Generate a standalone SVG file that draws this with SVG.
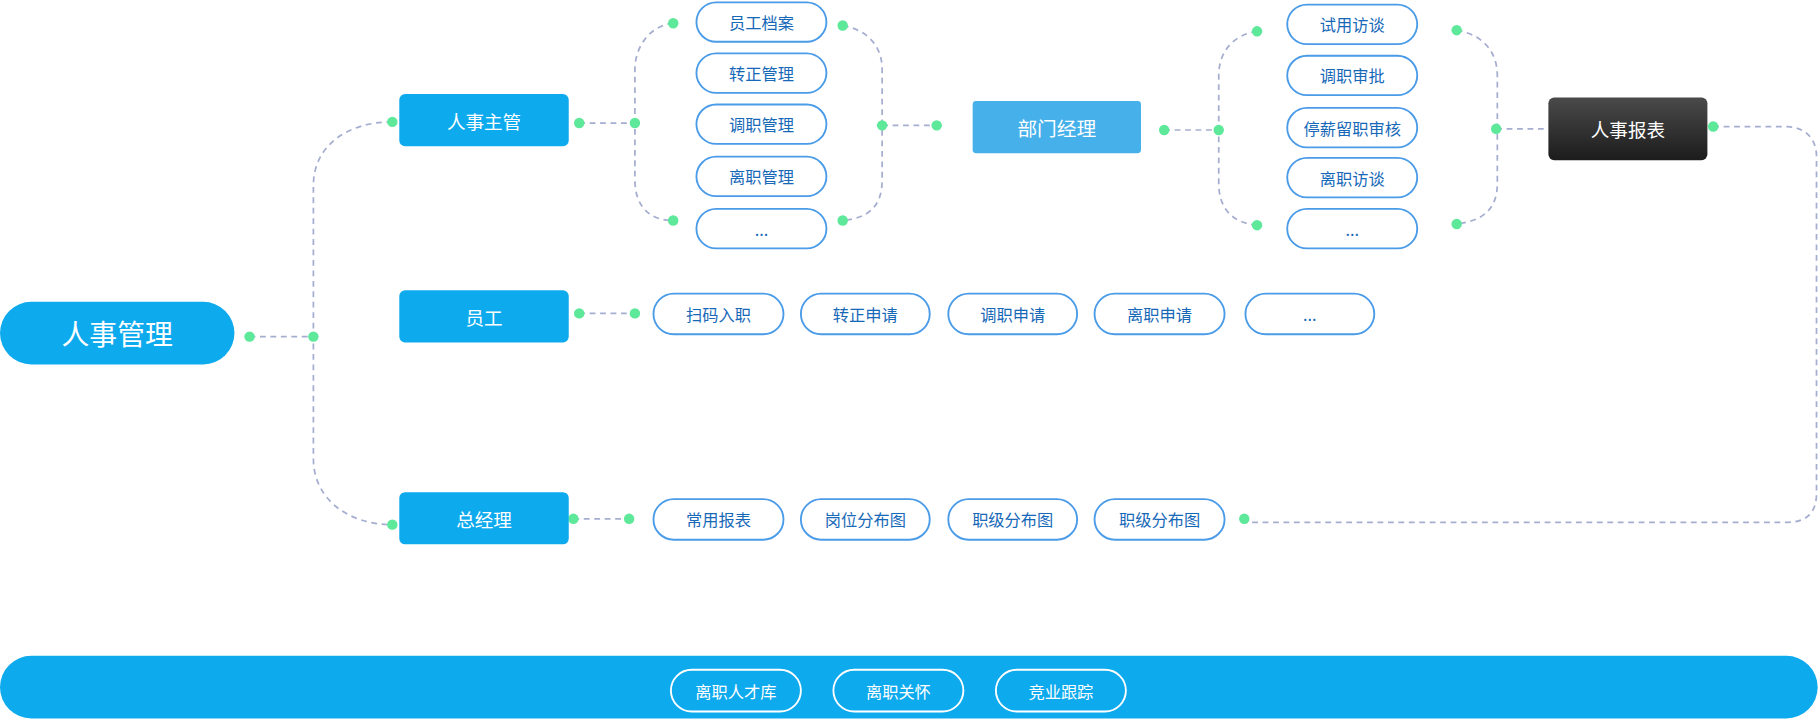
<svg xmlns="http://www.w3.org/2000/svg" width="1820" height="721" viewBox="0 0 1820 721">
<defs>
<linearGradient id="dk" x1="0" y1="0" x2="0" y2="1"><stop offset="0" stop-color="#4a4a4a"/><stop offset="1" stop-color="#1c1c1c"/></linearGradient>
<style>
text{font-family:"Noto Sans CJK SC","Noto Sans",sans-serif;text-anchor:middle;dominant-baseline:central}
.b{fill:#0eaaee}
.w{fill:#fff;font-size:16px}
.p{fill:#fff;stroke:#4a9be8;stroke-width:1.6}
.pt{fill:#1769b8;font-size:14px}
.c{fill:none;stroke:#a6aed0;stroke-width:1.5;stroke-dasharray:5 4}
.d{fill:#5de89a}
.bp{fill:none;stroke:#fff;stroke-width:1.6}
</style>
</defs>
<rect width="1820" height="721" fill="#fff"/>
<g transform="scale(1.16071)">
<g id="connectors">
<path class="c" d="M215,290H270M338,105C300,105 270,125 270,160V395C270,430 300,452 338,452"/>
<path class="c" d="M499,106H547M580,20C560,22 547,40 547,60V155C547,178 560,190 580,190"/>
<path class="c" d="M726,22C748,26 760,40 760,60V155C760,178 748,188 726,190M760,108H807"/>
<path class="c" d="M1003,112H1050M1083,27C1062,30 1050,45 1050,65V158C1050,180 1062,192 1083,194"/>
<path class="c" d="M1255,26C1278,30 1290,45 1290,65V158C1290,180 1278,190 1255,193M1289,111H1334"/>
<path class="c" d="M1476,109H1540C1556,110 1565,120 1565,135V425C1565,442 1556,450 1540,450H1072"/>
<path class="c" d="M499,270H547M494,447H542"/>
<g class="d">
<circle cx="215" cy="290" r="4.5"/><circle cx="270" cy="290" r="4.5"/><circle cx="338" cy="105" r="4.5"/><circle cx="338" cy="452" r="4.5"/>
<circle cx="499" cy="106" r="4.5"/><circle cx="547" cy="106" r="4.5"/><circle cx="580" cy="20" r="4.5"/><circle cx="580" cy="190" r="4.5"/>
<circle cx="726" cy="22" r="4.5"/><circle cx="726" cy="190" r="4.5"/><circle cx="760" cy="108" r="4.5"/><circle cx="807" cy="108" r="4.5"/>
<circle cx="1003" cy="112" r="4.5"/><circle cx="1050" cy="112" r="4.5"/><circle cx="1083" cy="27" r="4.5"/><circle cx="1083" cy="194" r="4.5"/>
<circle cx="1255" cy="26" r="4.5"/><circle cx="1255" cy="193" r="4.5"/><circle cx="1289" cy="111" r="4.5"/>
<circle cx="1476" cy="109" r="4.5"/><circle cx="1072" cy="447" r="4.5"/>
<circle cx="499" cy="270" r="4.5"/><circle cx="547" cy="270" r="4.5"/><circle cx="494" cy="447" r="4.5"/><circle cx="542" cy="447" r="4.5"/>
</g>
</g>
<g id="root"><rect class="b" x="0" y="260" width="202" height="54" rx="27"/><text class="w" x="101" y="287" style="font-size:24px">人事管理</text></g>
<g id="hr"><rect class="b" x="344" y="81" width="146" height="45" rx="5"/><text class="w" x="417" y="103.5">人事主管</text></g>
<g id="emp"><rect class="b" x="344" y="250" width="146" height="45" rx="5"/><text class="w" x="417" y="272.5">员工</text></g>
<g id="gm"><rect class="b" x="344" y="424" width="146" height="45" rx="5"/><text class="w" x="417" y="446.5">总经理</text></g>
<g id="dept"><rect fill="#45b0ea" x="838" y="87" width="145" height="45" rx="3"/><text class="w" x="910.5" y="109.5" style="font-size:17px">部门经理</text></g>
<g id="report"><rect fill="url(#dk)" x="1334" y="84" width="137" height="54" rx="5"/><text class="w" x="1402.5" y="111">人事报表</text></g>
<g id="hrItems">
<g id="h1"><rect class="p" x="600" y="2" width="112" height="34" rx="17"/><text class="pt" x="656" y="19">员工档案</text></g>
<g id="h2"><rect class="p" x="600" y="46" width="112" height="34" rx="17"/><text class="pt" x="656" y="63">转正管理</text></g>
<g id="h3"><rect class="p" x="600" y="90" width="112" height="34" rx="17"/><text class="pt" x="656" y="107">调职管理</text></g>
<g id="h4"><rect class="p" x="600" y="135" width="112" height="34" rx="17"/><text class="pt" x="656" y="152">离职管理</text></g>
<g id="h5"><rect class="p" x="600" y="180" width="112" height="34" rx="17"/><text class="pt" x="656" y="197">...</text></g>
</g>
<g id="deptItems">
<g id="d1"><rect class="p" x="1109" y="4" width="112" height="34" rx="17"/><text class="pt" x="1165" y="21">试用访谈</text></g>
<g id="d2"><rect class="p" x="1109" y="48" width="112" height="34" rx="17"/><text class="pt" x="1165" y="65">调职审批</text></g>
<g id="d3"><rect class="p" x="1109" y="93" width="112" height="34" rx="17"/><text class="pt" x="1165" y="110">停薪留职审核</text></g>
<g id="d4"><rect class="p" x="1109" y="136" width="112" height="34" rx="17"/><text class="pt" x="1165" y="153">离职访谈</text></g>
<g id="d5"><rect class="p" x="1109" y="180" width="112" height="34" rx="17"/><text class="pt" x="1165" y="197">...</text></g>
</g>
<g id="empItems">
<g id="e1"><rect class="p" x="563" y="253" width="112" height="35" rx="17.5"/><text class="pt" x="619" y="270.5">扫码入职</text></g>
<g id="e2"><rect class="p" x="690" y="253" width="111" height="35" rx="17.5"/><text class="pt" x="745.5" y="270.5">转正申请</text></g>
<g id="e3"><rect class="p" x="817" y="253" width="111" height="35" rx="17.5"/><text class="pt" x="872.5" y="270.5">调职申请</text></g>
<g id="e4"><rect class="p" x="943" y="253" width="112" height="35" rx="17.5"/><text class="pt" x="999" y="270.5">离职申请</text></g>
<g id="e5"><rect class="p" x="1073" y="253" width="111" height="35" rx="17.5"/><text class="pt" x="1128.5" y="270.5">...</text></g>
</g>
<g id="gmItems">
<g id="g1"><rect class="p" x="563" y="430" width="112" height="35" rx="17.5"/><text class="pt" x="619" y="447.5">常用报表</text></g>
<g id="g2"><rect class="p" x="690" y="430" width="111" height="35" rx="17.5"/><text class="pt" x="745.5" y="447.5">岗位分布图</text></g>
<g id="g3"><rect class="p" x="817" y="430" width="111" height="35" rx="17.5"/><text class="pt" x="872.5" y="447.5">职级分布图</text></g>
<g id="g4"><rect class="p" x="943" y="430" width="112" height="35" rx="17.5"/><text class="pt" x="999" y="447.5">职级分布图</text></g>
</g>
<g id="bottom">
<rect class="b" x="0" y="565" width="1566" height="54" rx="27"/>
<g id="b1"><rect class="bp" x="578" y="577" width="112" height="36" rx="18"/><text class="w" x="634" y="595" style="font-size:14px">离职人才库</text></g>
<g id="b2"><rect class="bp" x="718" y="577" width="112" height="36" rx="18"/><text class="w" x="774" y="595" style="font-size:14px">离职关怀</text></g>
<g id="b3"><rect class="bp" x="858" y="577" width="112" height="36" rx="18"/><text class="w" x="914" y="595" style="font-size:14px">竞业跟踪</text></g>
</g>
</g>
</svg>
